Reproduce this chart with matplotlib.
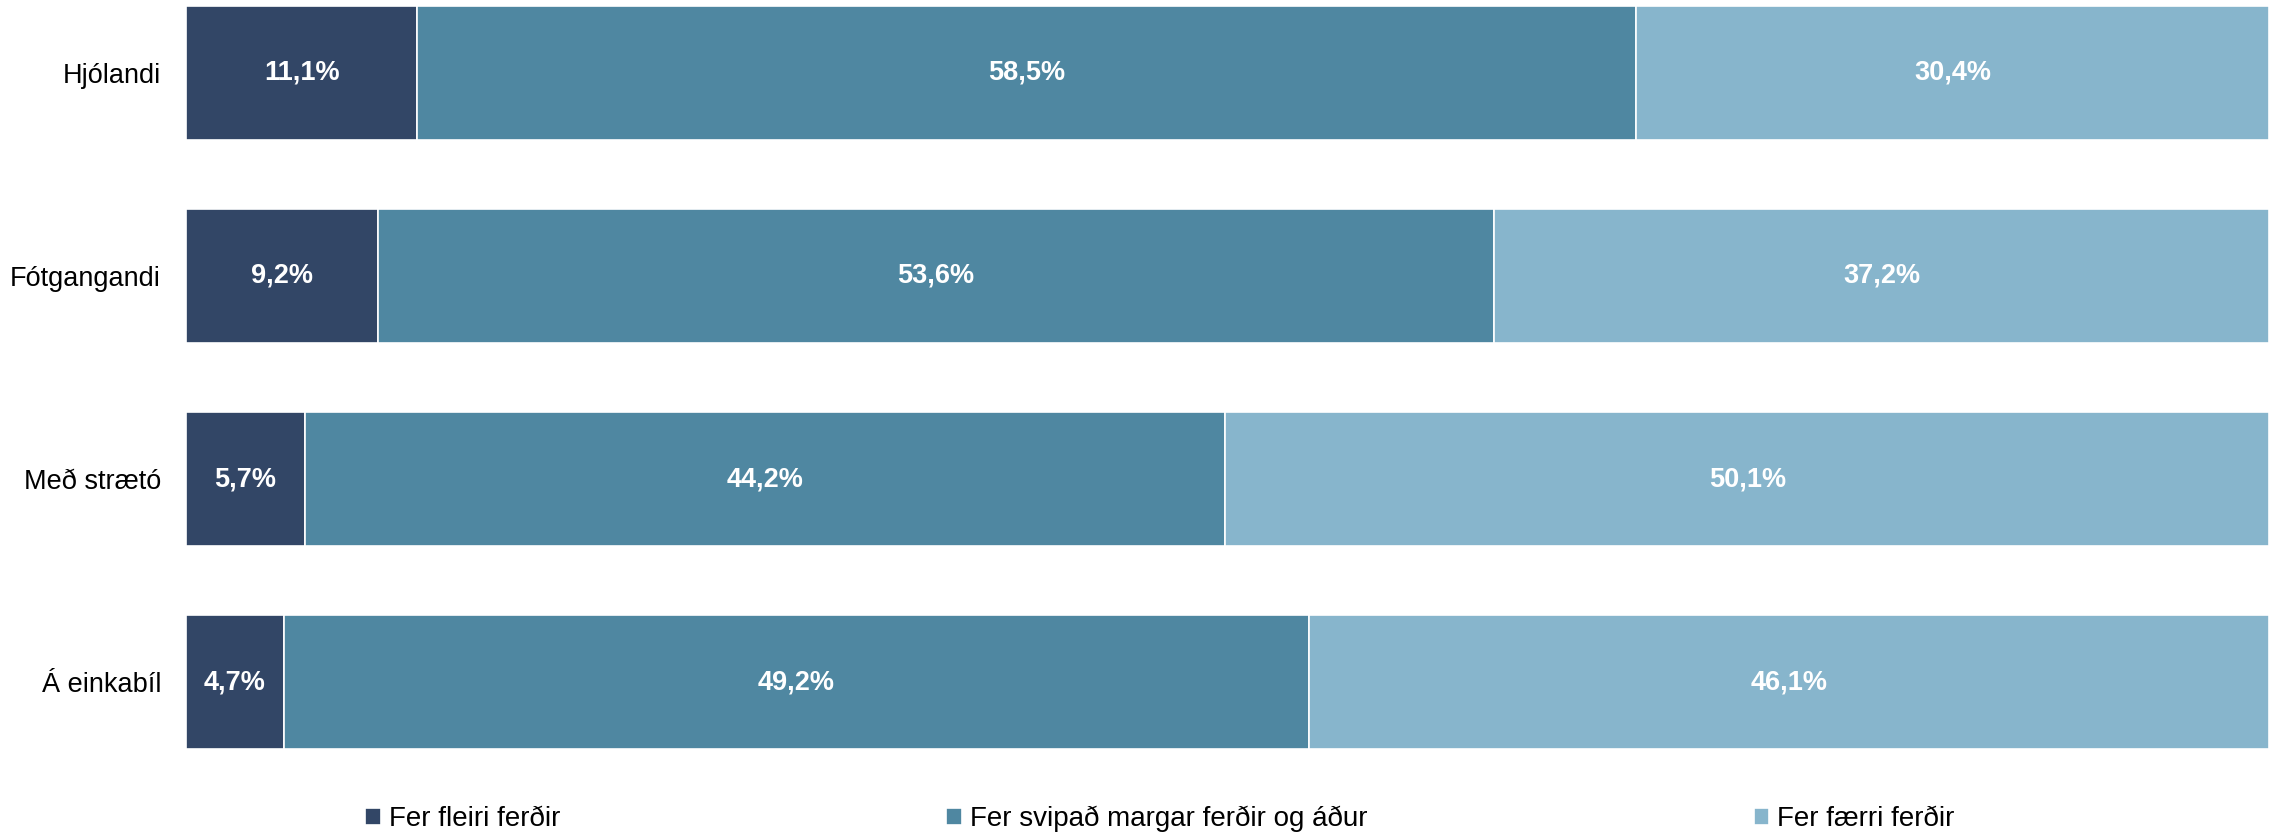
import matplotlib
matplotlib.use("Agg")
import matplotlib.pyplot as plt
import numpy as np

categories = ["Hjólandi", "Fótgangandi", "Með strætó", "Á einkabíl"]
series_names = ["Fer fleiri ferðir", "Fer svipað margar ferðir og áður", "Fer færri ferðir"]
more_trips = [11.1, 9.2, 5.7, 4.7]
same_trips = [58.5, 53.6, 44.2, 49.2]
fewer_trips = [30.4, 37.2, 50.1, 46.1]
colors = ["#324666", "#4F87A1", "#87B5CC"]

plt.rcParams['font.family'] = ['Liberation Sans', 'DejaVu Sans']

W, H = 2275, 833
fig = plt.figure(figsize=(W / 100, H / 100), dpi=100)
ax = fig.add_axes([186 / W, 1 - 749 / H, (2269 - 186) / W, (749 - 6) / H])

y = np.arange(len(categories))
left = np.zeros(len(categories))
for vals, name, col in zip([more_trips, same_trips, fewer_trips], series_names, colors):
    vals = np.array(vals)
    ax.barh(y, vals, left=left, height=0.66, color=col, edgecolor="white",
            linewidth=1.2, label=name)
    for yi, l, v in zip(y, left, vals):
        ax.text(l + v / 2, yi, f"{v:.1f}%".replace(".", ","), ha="center", va="center",
                color="white", fontsize=19.5, fontweight="bold")
    left = left + vals

ax.set_xlim(0, 100)
ax.set_ylim(3.33, -0.33)
ax.set_yticks(y)
ax.set_yticklabels(categories, fontsize=19.5)
ax.tick_params(axis="y", length=0, pad=18)
ax.set_xticks([])
for s in ax.spines.values():
    s.set_visible(False)

fig.legend(loc="center", bbox_to_anchor=(1160 / W, 1 - 819 / H), ncol=3, frameon=False,
           fontsize=20, handlelength=0.55, handleheight=0.55, handletextpad=0.3,
           columnspacing=13.9)

fig.savefig("out.png", dpi=100)
